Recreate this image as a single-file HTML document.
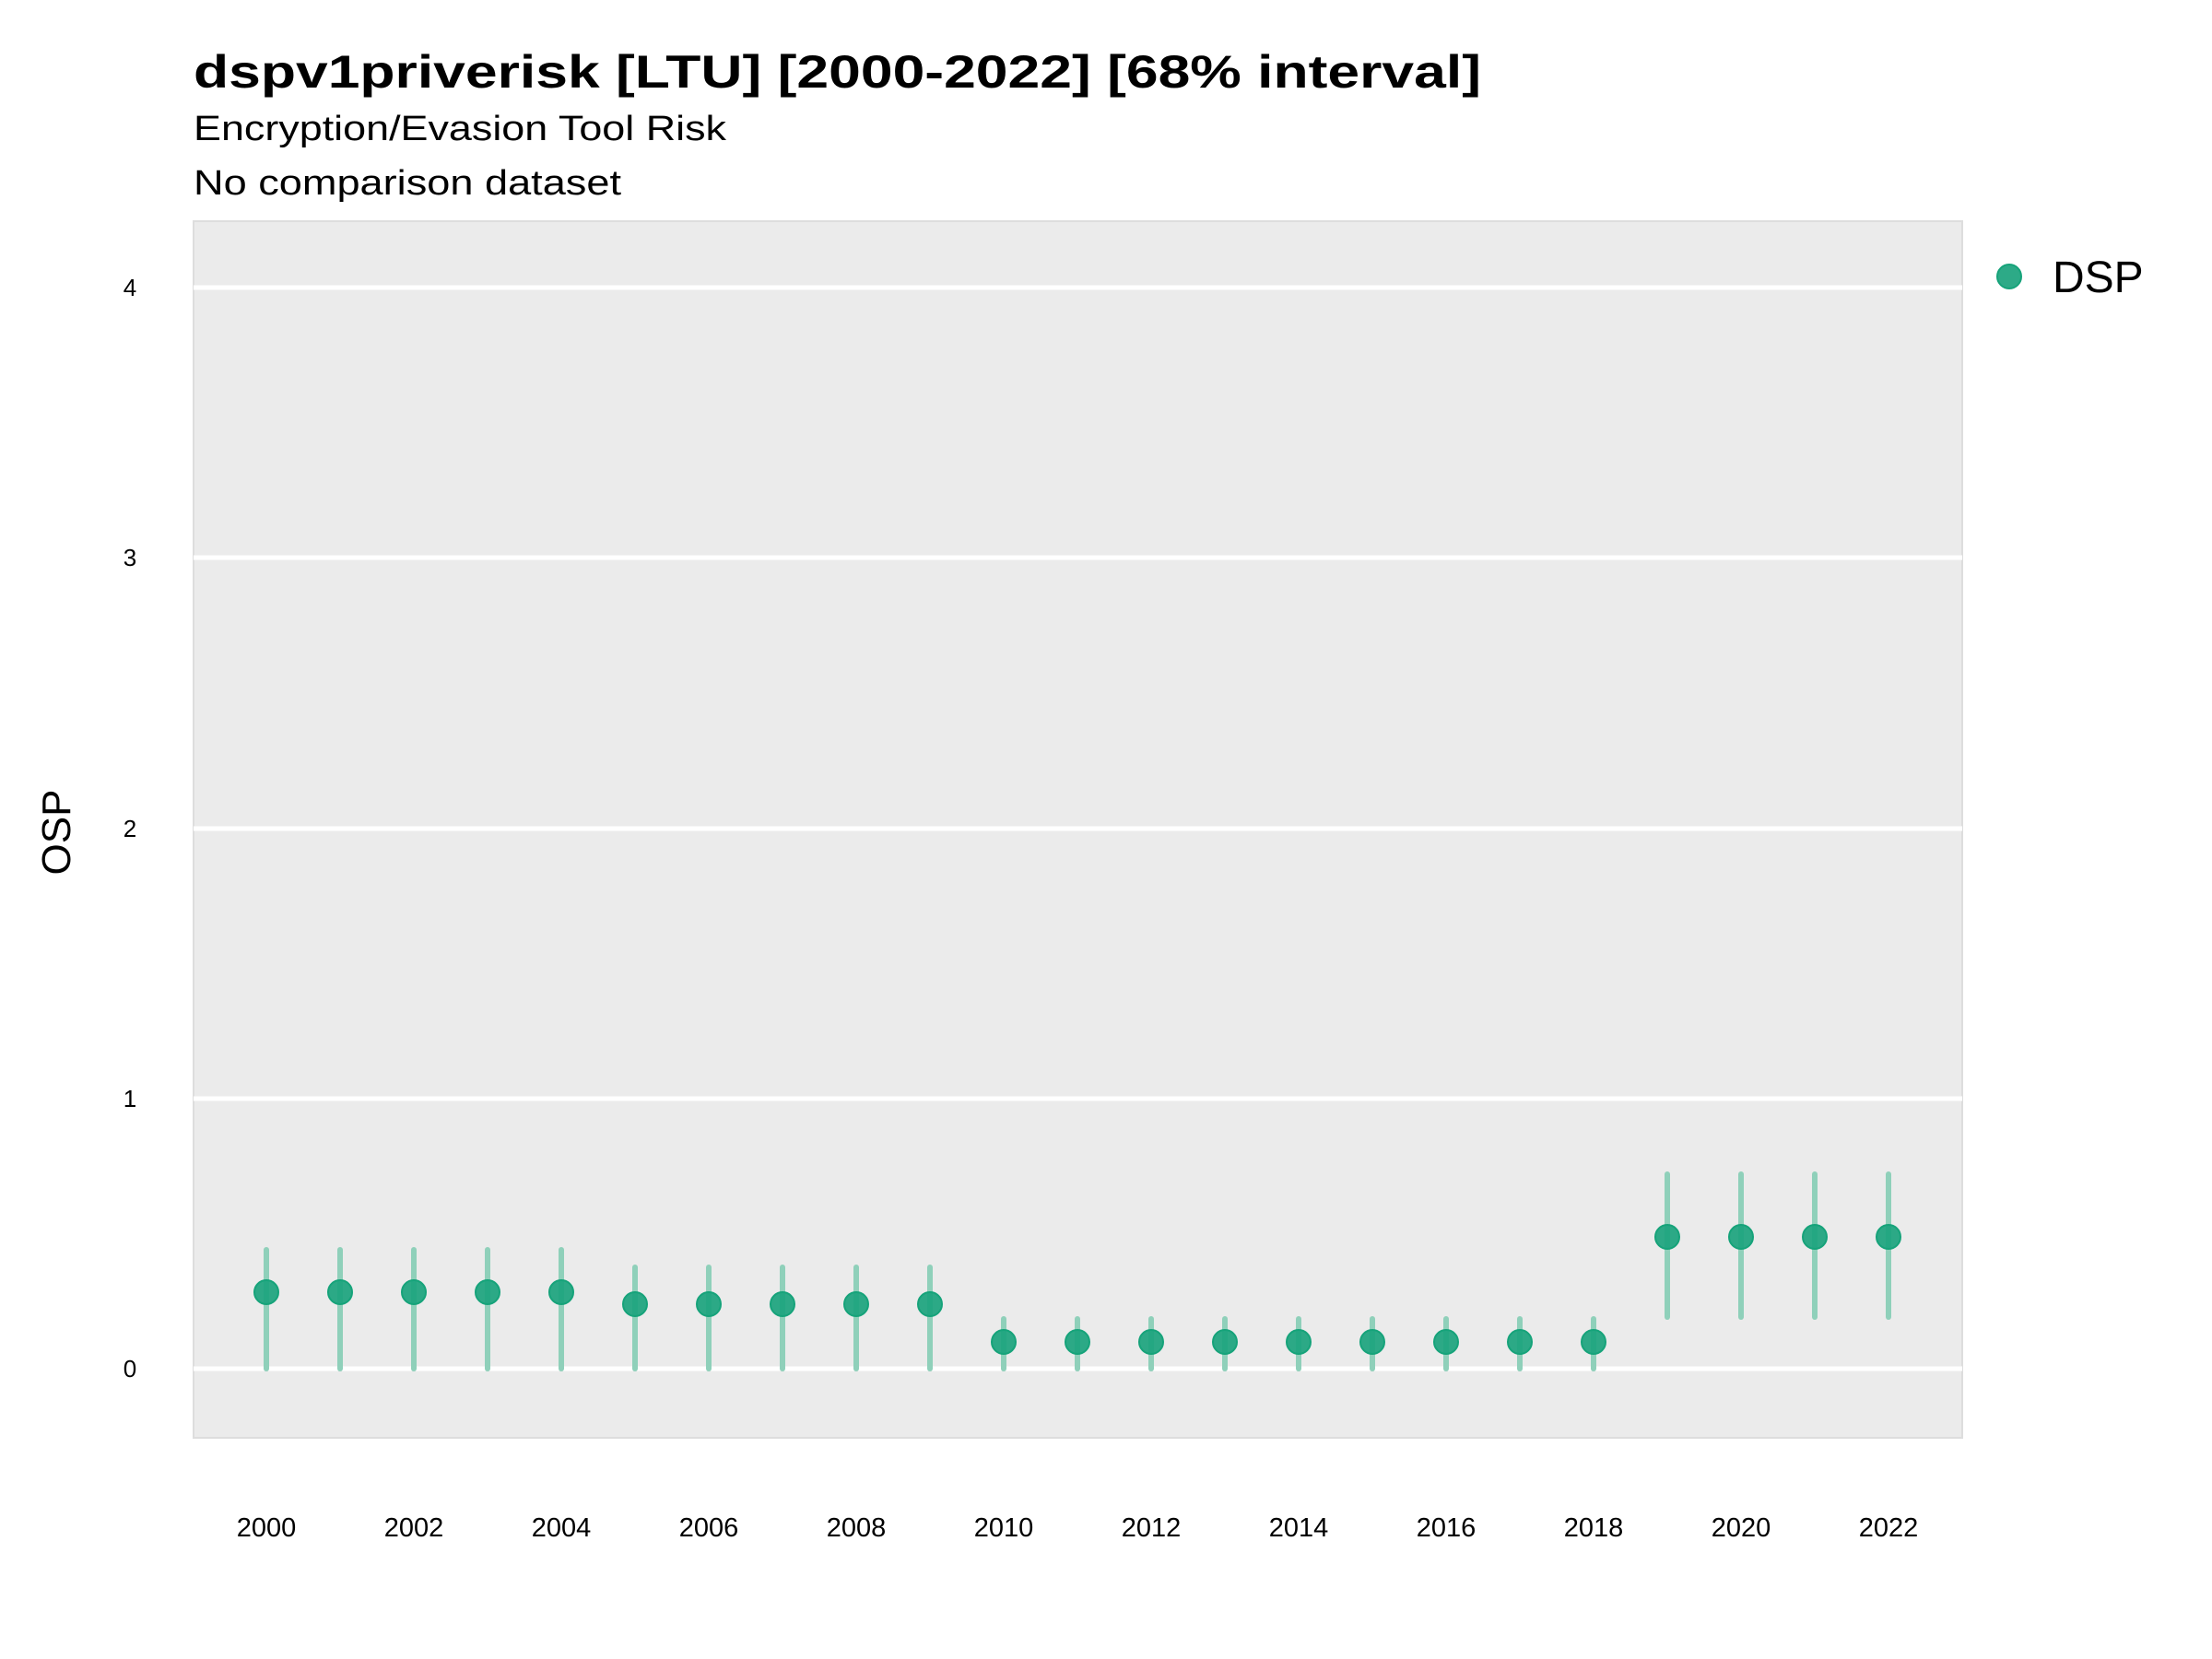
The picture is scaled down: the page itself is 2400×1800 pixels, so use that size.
<!DOCTYPE html>
<html><head><meta charset="utf-8"><style>html,body{margin:0;padding:0;background:#fff}svg{display:block}</style></head>
<body>
<svg width="2400" height="1800" xmlns="http://www.w3.org/2000/svg" font-family="Liberation Sans, Arial, sans-serif">
<text x="210" y="95" font-size="50" font-weight="bold" textLength="1397" lengthAdjust="spacingAndGlyphs">dspv1priverisk [LTU] [2000-2022] [68% interval]</text>
<text x="210" y="152" font-size="38" textLength="578" lengthAdjust="spacingAndGlyphs">Encryption/Evasion Tool Risk</text>
<text x="210" y="211" font-size="38" textLength="464" lengthAdjust="spacingAndGlyphs">No comparison dataset</text>
<rect x="210" y="240" width="1919" height="1320" fill="#ebebeb" stroke="#dddddd" stroke-width="2"/>
<g stroke="#ffffff" stroke-width="5">
<line x1="210" x2="2129" y1="1485" y2="1485"/>
<line x1="210" x2="2129" y1="1192" y2="1192"/>
<line x1="210" x2="2129" y1="899" y2="899"/>
<line x1="210" x2="2129" y1="605" y2="605"/>
<line x1="210" x2="2129" y1="312" y2="312"/>
</g>
<g font-size="26" text-anchor="middle">
<text x="141" y="1494">0</text><text x="141" y="1201">1</text><text x="141" y="908">2</text><text x="141" y="614">3</text><text x="141" y="321">4</text>
</g>
<text transform="translate(76,903) rotate(-90)" font-size="44" text-anchor="middle">OSP</text>
<g font-size="29" text-anchor="middle">
<text x="289" y="1667">2000</text><text x="449" y="1667">2002</text><text x="609" y="1667">2004</text><text x="769" y="1667">2006</text><text x="929" y="1667">2008</text><text x="1089" y="1667">2010</text><text x="1249" y="1667">2012</text><text x="1409" y="1667">2014</text><text x="1569" y="1667">2016</text><text x="1729" y="1667">2018</text><text x="1889" y="1667">2020</text><text x="2049" y="1667">2022</text>
</g>
<g stroke="#8fd0ba" stroke-width="6" stroke-linecap="round">
<line x1="289" x2="289" y1="1485" y2="1356"/>
<line x1="369" x2="369" y1="1485" y2="1356"/>
<line x1="449" x2="449" y1="1485" y2="1356"/>
<line x1="529" x2="529" y1="1485" y2="1356"/>
<line x1="609" x2="609" y1="1485" y2="1356"/>
<line x1="689" x2="689" y1="1485" y2="1375"/>
<line x1="769" x2="769" y1="1485" y2="1375"/>
<line x1="849" x2="849" y1="1485" y2="1375"/>
<line x1="929" x2="929" y1="1485" y2="1375"/>
<line x1="1009" x2="1009" y1="1485" y2="1375"/>
<line x1="1089" x2="1089" y1="1485" y2="1431"/>
<line x1="1169" x2="1169" y1="1485" y2="1431"/>
<line x1="1249" x2="1249" y1="1485" y2="1431"/>
<line x1="1329" x2="1329" y1="1485" y2="1431"/>
<line x1="1409" x2="1409" y1="1485" y2="1431"/>
<line x1="1489" x2="1489" y1="1485" y2="1431"/>
<line x1="1569" x2="1569" y1="1485" y2="1431"/>
<line x1="1649" x2="1649" y1="1485" y2="1431"/>
<line x1="1729" x2="1729" y1="1485" y2="1431"/>
<line x1="1809" x2="1809" y1="1429" y2="1274"/>
<line x1="1889" x2="1889" y1="1429" y2="1274"/>
<line x1="1969" x2="1969" y1="1429" y2="1274"/>
<line x1="2049" x2="2049" y1="1429" y2="1274"/>
</g>
<g fill="#1ba37d" fill-opacity="0.92" stroke="#16a37a" stroke-width="2">
<circle cx="289" cy="1402" r="13"/><circle cx="369" cy="1402" r="13"/><circle cx="449" cy="1402" r="13"/><circle cx="529" cy="1402" r="13"/><circle cx="609" cy="1402" r="13"/>
<circle cx="689" cy="1415" r="13"/><circle cx="769" cy="1415" r="13"/><circle cx="849" cy="1415" r="13"/><circle cx="929" cy="1415" r="13"/><circle cx="1009" cy="1415" r="13"/>
<circle cx="1089" cy="1456" r="13"/><circle cx="1169" cy="1456" r="13"/><circle cx="1249" cy="1456" r="13"/><circle cx="1329" cy="1456" r="13"/><circle cx="1409" cy="1456" r="13"/><circle cx="1489" cy="1456" r="13"/><circle cx="1569" cy="1456" r="13"/><circle cx="1649" cy="1456" r="13"/><circle cx="1729" cy="1456" r="13"/>
<circle cx="1809" cy="1342" r="13"/><circle cx="1889" cy="1342" r="13"/><circle cx="1969" cy="1342" r="13"/><circle cx="2049" cy="1342" r="13"/>
<circle cx="2180" cy="300" r="13"/>
</g>
<text x="2227" y="317" font-size="48">DSP</text>
</svg>
</body></html>
